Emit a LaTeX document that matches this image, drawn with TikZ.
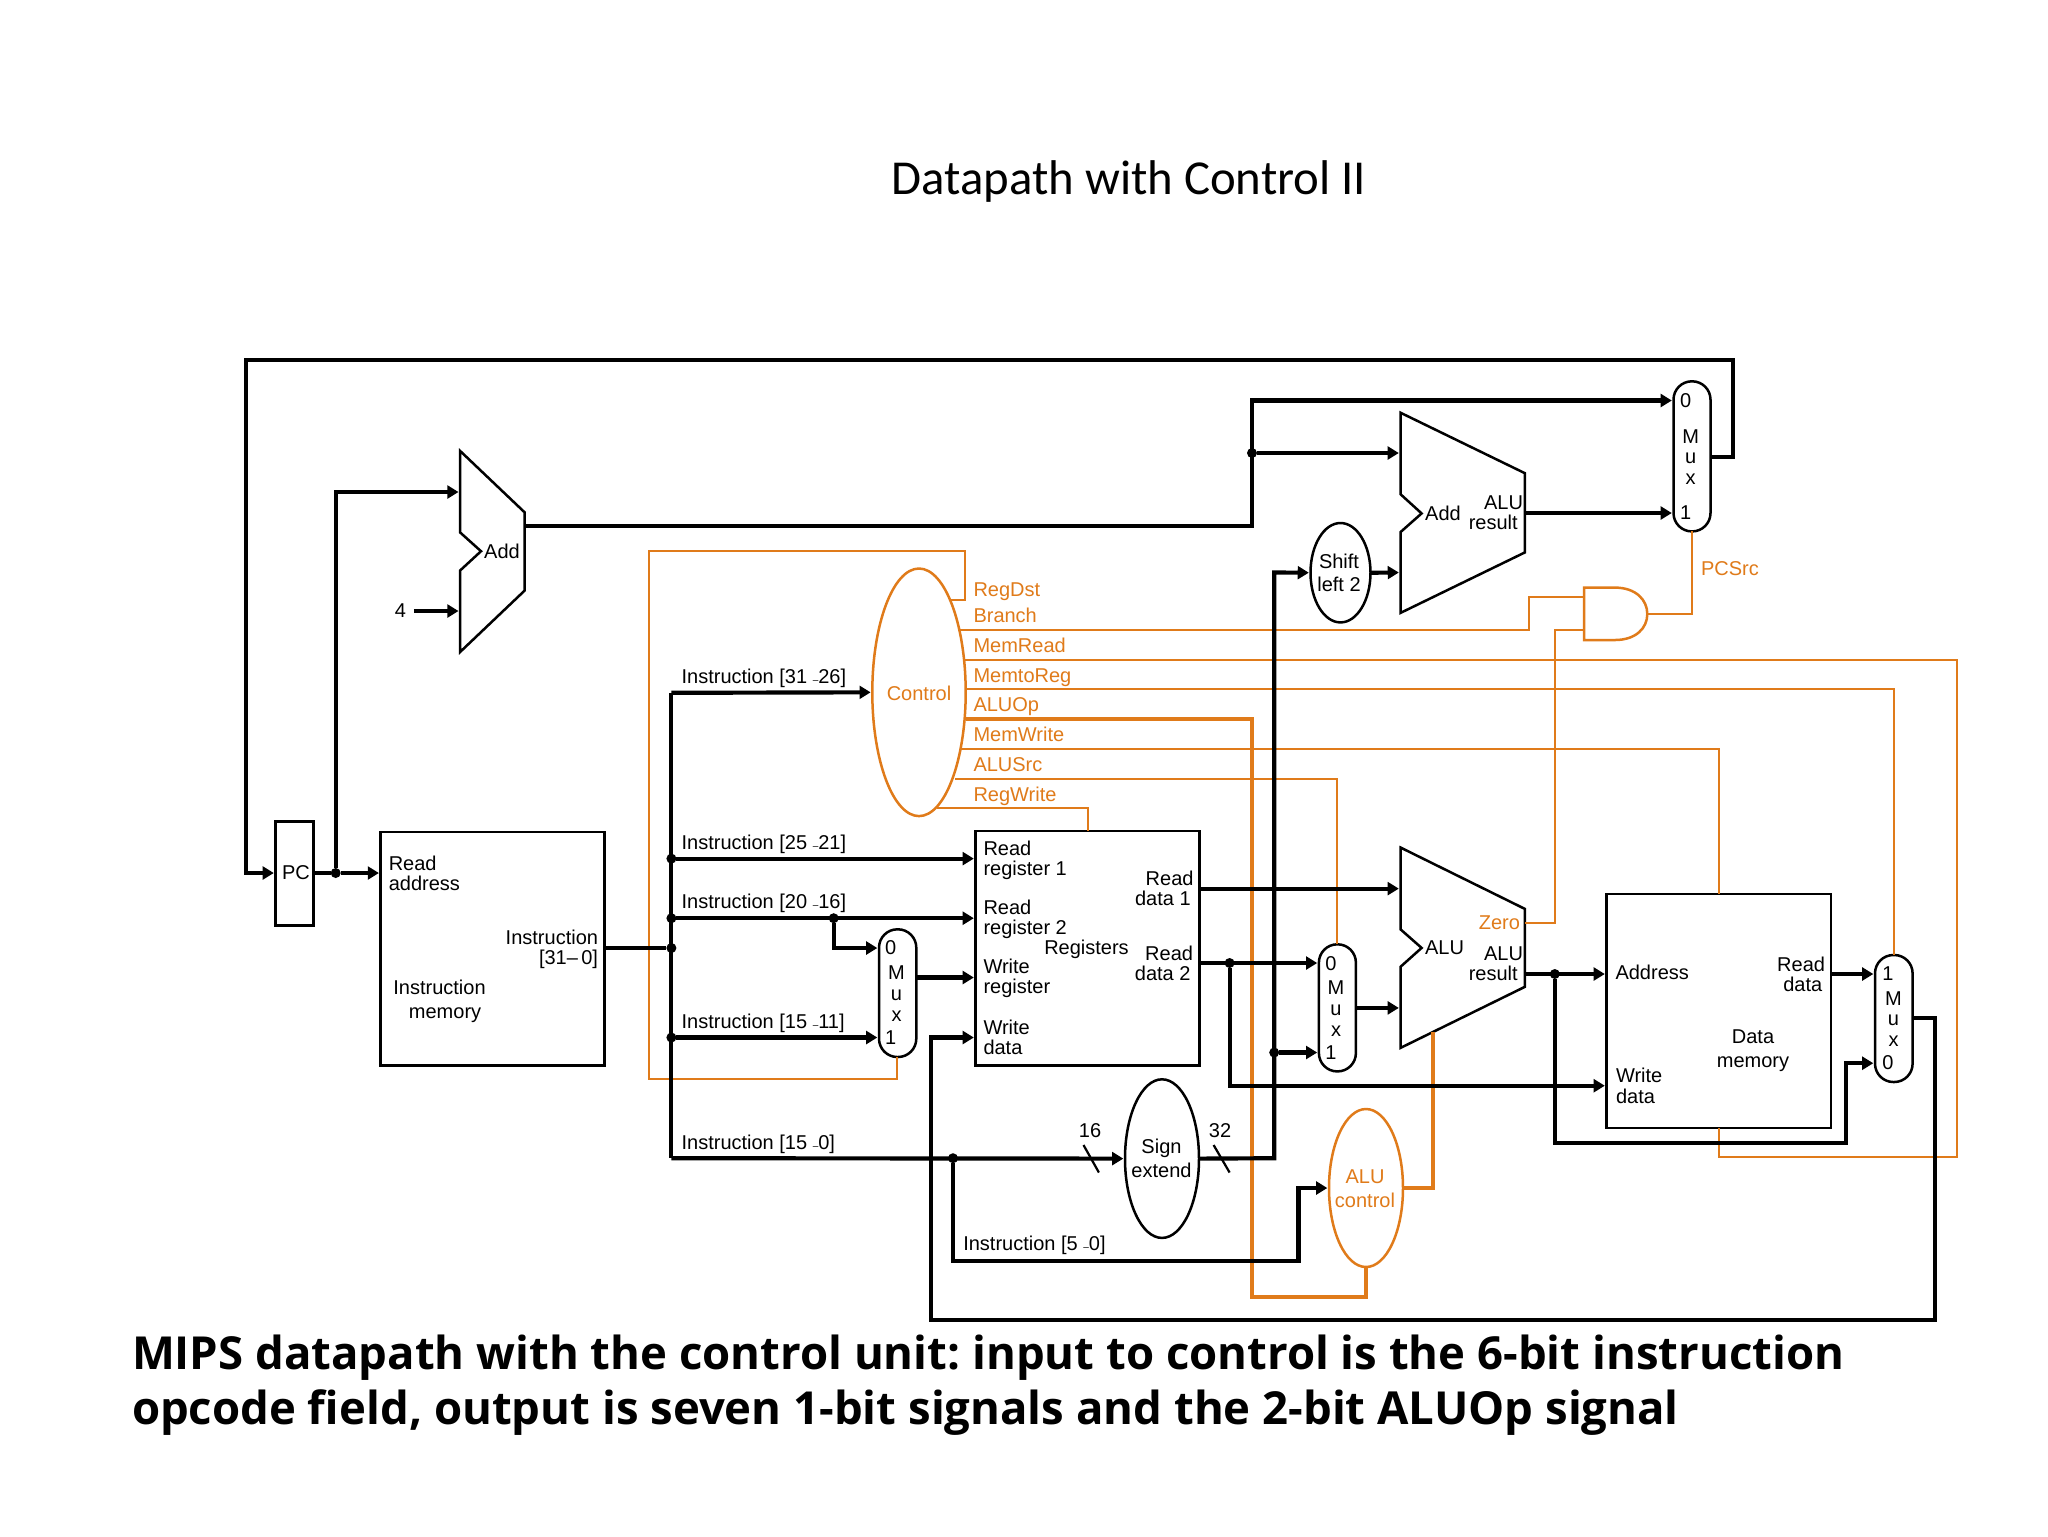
\documentclass[tikz,border=0pt]{standalone}
\usepackage{fontspec}
\setmainfont{Liberation Sans}
\newfontfamily\titlefont{Carlito}
\newfontfamily\capfont{Open Sans}
\usetikzlibrary{arrows.meta,fit,shapes.geometric,calc}
\definecolor{ctl}{HTML}{E07B1A}
\newcommand{\dd}{{\fontsize{3.6pt}{5pt}\selectfont –}}
\tikzset{
  every node/.style={inner sep=0pt,outer sep=0pt},
  t/.style={font=\fontsize{7.2pt}{7.2pt}\selectfont,text=black},
  o/.style={t,text=ctl},
  shape line/.style={draw=black,line width=0.9pt,line join=miter},
  boxn/.style={shape line,fit={#1}},
  muxn/.style={shape line,rounded corners=6.6pt,fit={#1}},
  eln/.style={ellipse,draw=black,line width=0.9pt},
  bus/.style={draw=black,line width=1.5pt,line join=miter},
  arr/.style={bus,-{Triangle[length=4pt,width=4.6pt]},shorten >=0.6pt},
  ctlw/.style={draw=ctl,line width=0.8pt,line join=miter},
  ctlb/.style={draw=ctl,line width=1.5pt,line join=miter},
  dot/.style={circle,fill=black,minimum size=3.6pt},
}
\begin{document}
\begin{tikzpicture}[x=0.36pt,y=-0.36pt]
\useasboundingbox (0,0) rectangle (2048,1536);
\fill[white] (0,0) rectangle (2048,1536);

% --- named points
\coordinate (topL) at (246,360);
\coordinate (topR) at (1733,360);
\coordinate (pcIn) at (246,873);
\coordinate (addIn1) at (335.7,492);
\coordinate (addA1) at (460.2,492);
\coordinate (four) at (413.8,611);
\coordinate (addA2) at (460.2,611);
\coordinate (addOut) at (524.5,526);
\coordinate (bendA) at (1252,526);
\coordinate (bendB) at (1252,400.5);
\coordinate (muxP0) at (1673.5,400.5);
\coordinate (add2A) at (1400.5,453);
\coordinate (add2B) at (1400.5,572.5);
\coordinate (add2O) at (1524.9,513);
\coordinate (muxP1) at (1673.5,513);
\coordinate (muxPO) at (1710.5,456.7);
\coordinate (muxPOb) at (1733,456.7);
\coordinate (sBendT) at (1274.2,572.5);
\coordinate (sBendB) at (1274.2,1158.2);
\coordinate (aluA) at (1400.5,888.6);
\coordinate (aluB) at (1400.5,1007.9);
\coordinate (aluO) at (1524.9,974);
\coordinate (aluZ) at (1524.9,923);
\coordinate (memA) at (1606.5,974);
\coordinate (memW) at (1606.5,1085.7);
\coordinate (rd2b) at (1229.6,1085.7);
\coordinate (bypA) at (1554.8,1143.2);
\coordinate (bypB) at (1846.3,1143.2);
\coordinate (bypC) at (1846.3,1063.2);
\coordinate (wbA) at (1935,1018.2);
\coordinate (wbB) at (1935,1319.6);
\coordinate (wbC) at (930.6,1319.6);
\coordinate (wbD) at (930.6,1037.5);
\coordinate (busT) at (671.4,692.8);
\coordinate (busB) at (671.4,1158.2);
\coordinate (m1a) at (833.7,948);
\coordinate (wrp) at (916.3,977.5);
\coordinate (fiveA) at (953,1260.7);
\coordinate (fiveB) at (1298.5,1260.7);
\coordinate (fiveC) at (1298.5,1188);
\coordinate (aluCtlUp) at (1433,1188);
\coordinate (aluBottom) at (1433,1032);
\coordinate (opA) at (1252,719.3);
\coordinate (opB) at (1252,1297);
\coordinate (opC) at (1366,1297);
\coordinate (dstA) at (951,600);
\coordinate (dstB) at (965,600);
\coordinate (dstC) at (965,551);
\coordinate (dstD) at (649,551);
\coordinate (dstE) at (649,1079);
\coordinate (dstF) at (897,1079);
\coordinate (brA) at (960,630);
\coordinate (brB) at (1529,630);
\coordinate (brC) at (1529,597);
\coordinate (andA) at (1584.2,597);
\coordinate (andB) at (1584.2,630);
\coordinate (zA) at (1555,923);
\coordinate (zB) at (1555,630);
\coordinate (andO) at (1647.3,614);
\coordinate (pcsA) at (1692,614);
\coordinate (mrA) at (963.8,660);
\coordinate (mrB) at (1957,660);
\coordinate (mrC) at (1957,1157);
\coordinate (mrD) at (1719,1157);
\coordinate (m2rA) at (966,689);
\coordinate (m2rB) at (1894,689);
\coordinate (mwA) at (961,749);
\coordinate (mwB) at (1719,749);
\coordinate (asA) at (955,779);
\coordinate (asB) at (1337,779);
\coordinate (rwA) at (937,808);
\coordinate (rwB) at (1088,808);

% --- shapes: boxes
\node[boxn={(275.5,821.4)(313.3,925.7)}] (pc) {};
\node[t] (pct) at (296,873) {PC};
\node[boxn={(380.6,832)(604.6,1065.4)}] (imem) {};
\node[boxn={(975.5,831)(1199.6,1065.4)}] (regs) {};
\node[boxn={(1606.5,893.9)(1831,1127.9)}] (dmem) {};

% --- adders and ALU
\draw[shape line] (460.2,451) -- (524.5,512.2) -- (524.5,590.7) -- (460.2,651.9) -- (460.2,570.4) -- (481,551.2) -- (460.2,532.5) -- cycle;
\draw[shape line] (1400.5,412.7) -- (1524.9,473.2) -- (1524.9,552.4) -- (1400.5,612.9) -- (1400.5,532.1) -- (1421.6,513.4) -- (1400.5,494.2) -- cycle;
\draw[shape line] (1400.5,847.5) -- (1524.9,908.9) -- (1524.9,986.8) -- (1400.5,1047.9) -- (1400.5,966.8) -- (1421.6,947.9) -- (1400.5,929.3) -- cycle;

% --- muxes
\node[muxn={(1673.5,381.3)(1710.5,531.4)}] (mxpc) {};
\node[t] (mxpc0) at (1685.6,400.5) {0};
\node[t,align=center] (mxpcm) at (1690.7,457) {M\\[0.3pt]u\\[0.3pt]x};
\node[t] (mxpc1) at (1685.6,513) {1};
\node[muxn={(879,929.3)(916.3,1057)}] (mxreg) {};
\node[t] (mxreg0) at (890.8,948) {0};
\node[t,align=center] (mxregm) at (896.5,993.5) {M\\[0.3pt]u\\[0.3pt]x};
\node[t] (mxreg1) at (890.8,1037.5) {1};
\node[muxn={(1318.9,944.3)(1355.9,1071.4)}] (mxalu) {};
\node[t] (mxalu0) at (1331,963.6) {0};
\node[t,align=center] (mxalum) at (1336,1008.5) {M\\[0.3pt]u\\[0.3pt]x};
\node[t] (mxalu1) at (1331,1052.5) {1};
\node[muxn={(1875,955)(1912.6,1082)}] (mxmem) {};
\node[t] (mxmem1) at (1887.8,974) {1};
\node[t,align=center] (mxmemm) at (1893.5,1019) {M\\[0.3pt]u\\[0.3pt]x};
\node[t] (mxmem0) at (1887.8,1063) {0};

% --- ellipses
\node[eln,minimum width=93.4*0.36pt,minimum height=247.6*0.36pt,draw=ctl] (control) at (919,692.3) {};
\node[o] (lcontrol) at (919,693.6) {Control};
\node[eln,minimum width=60*0.36pt,minimum height=99.4*0.36pt] (shift) at (1340.5,572.7) {};
\node[t,align=center] (lshift) at (1339,572.5) {Shift\\[1pt]left 2};
\node[eln,minimum width=74*0.36pt,minimum height=158.6*0.36pt] (signext) at (1162,1158.6) {};
\node[t,align=center] (lsign) at (1161.5,1158.5) {Sign\\[1.3pt]extend};
\node[eln,minimum width=74*0.36pt,minimum height=158*0.36pt,draw=ctl] (aluctl) at (1366,1188) {};
\node[o,align=center] (laluctl) at (1365,1188.5) {ALU\\[1.4pt]control};

% --- AND gate
\coordinate (andTL) at (1584.2,587.6);
\coordinate (andTM) at (1615,587.6);
\coordinate (andBM) at (1615,640);
\coordinate (andBL) at (1584.2,640);
\draw[ctlw,line width=0.9pt] (andTL) -- (andTM) .. controls (1636,587.6) and (1647.3,600) .. (andO) .. controls (1647.3,628) and (1636,640) .. (andBM) -- (andBL) -- cycle;

% --- control wires (drawn beneath the data wires)
\draw[ctlw] (dstA) -- (dstB) -- (dstC) -- (dstD) -- (dstE) -- (dstF) -- (dstF |- mxreg.south);
\draw[ctlw] (brA) -- (brB) -- (brC) -- (andA);
\draw[ctlw] (aluZ) -- (zA) -- (zB) -- (andB);
\draw[ctlw] (andO) -- (pcsA) -- (pcsA |- mxpc.south);
\draw[ctlw] (mrA) -- (mrB) -- (mrC) -- (mrD) -- (dmem.south -| mrD);
\draw[ctlw] (m2rA) -- (m2rB) -- (mxmem.north -| m2rB);
\draw[ctlw] (mwA) -- (mwB) -- (dmem.north -| mwB);
\draw[ctlw] (asA) -- (asB) -- (mxalu.north -| asB);
\draw[ctlw] (rwA) -- (rwB) -- (regs.north -| rwB);
\draw[ctlb] (control.east |- opA) -- (opA) -- (opB) -- (opC) -- (aluctl.south);
\draw[ctlb] (aluctl.east) -- (aluCtlUp) -- (aluBottom);

% --- junctions
\node[dot] (jpc) at (335.7,873) {};
\node[dot] (jadd) at (1252,453) {};
\node[dot] (j2521) at (671.4,858.6) {};
\node[dot] (j2016) at (671.4,918.2) {};
\node[dot] (jinst) at (671.4,948) {};
\node[dot] (j1511) at (671.4,1037.5) {};
\node[dot] (jrt) at (833.7,918.2) {};
\node[dot] (j150) at (953,1158.2) {};
\node[dot] (jrd2) at (1229.6,963) {};
\node[dot] (jimm) at (1274.2,1052.5) {};
\node[dot] (jalu) at (1554.8,974) {};

% --- data wires
\draw[arr] (mxpc.east |- muxPO) -- (muxPOb) -- (topR) -- (topL) -- (pcIn) -- (pc.west |- pcIn);
\draw[bus] (pc.east |- jpc) -- (jpc);
\draw[arr] (jpc) -- (imem.west |- jpc);
\draw[arr] (jpc) -- (addIn1) -- (addA1);
\draw[arr] (four) -- (addA2);
\draw[arr] (addOut) -- (bendA) -- (bendB) -- (muxP0);
\draw[arr] (jadd) -- (add2A);
\draw[arr] (add2O) -- (muxP1);
\draw[arr] (shift.east) -- (add2B);
\draw[arr] (signext.east) -- (sBendB) -- (sBendT) -- (shift.west);
\draw[arr] (jimm) -- (mxalu.west |- jimm);
\draw[arr] (regs.east |- aluA) -- (aluA);
\draw[arr] (regs.east |- jrd2) -- (mxalu.west |- jrd2);
\draw[arr] (jrd2) -- (rd2b) -- (memW);
\draw[arr] (mxalu.east |- aluB) -- (aluB);
\draw[arr] (aluO) -- (memA);
\draw[arr] (jalu) -- (bypA) -- (bypB) -- (bypC) -- (mxmem.west |- bypC);
\draw[arr] (dmem.east |- memA) -- (mxmem.west |- memA);
\draw[arr] (mxmem.east |- wbA) -- (wbA) -- (wbB) -- (wbC) -- (wbD) -- (regs.west |- wbD);
\draw[bus] (imem.east |- jinst) -- (jinst);
\draw[bus] (busT) -- (busB);
\draw[arr] (busT) -- (control.west);
\draw[arr] (j2521) -- (regs.west |- j2521);
\draw[arr] (j2016) -- (regs.west |- j2016);
\draw[arr] (jrt) -- (m1a) -- (mxreg.west |- m1a);
\draw[arr] (j1511) -- (mxreg.west |- j1511);
\draw[arr] (wrp) -- (regs.west |- wrp);
\draw[arr] (busB) -- (signext.west);
\draw[arr] (j150) -- (fiveA) -- (fiveB) -- (fiveC) -- (aluctl.west);

% --- bit-width slashes
\coordinate (sl1a) at (1083.5,1145); \coordinate (sl1b) at (1098.9,1172.5);
\coordinate (sl2a) at (1213.6,1145); \coordinate (sl2b) at (1229.6,1172.5);
\draw[black,line width=0.8pt] (sl1a) -- (sl1b);
\draw[black,line width=0.8pt] (sl2a) -- (sl2b);

% --- black labels
\node[t] (l4) at (400.5,611) {4};
\node[t] (ladd1) at (502,551.6) {Add};
\node[t] (ladd2) at (1443,513) {Add};
\node[t,anchor=east,align=right] (lalures1) at (1523,512.5) {ALU\\result\hspace*{1.9pt}};
\node[t] (lalu) at (1444.5,948) {ALU};
\node[t,anchor=east,align=right] (lalures2) at (1523,964) {ALU\\result\hspace*{1.9pt}};
\node[t,align=left,anchor=west] (lra) at (388.8,873.6) {Read\\address};
\node[t,align=right,anchor=east] (linst) at (598,949.8) {Instruction\\{}[31–\,0]};
\node[t,align=center] (limem) at (439.5,1001.5) {Instruction\\[1.3pt]\hspace*{4pt}memory};
\node[t,align=left,anchor=west] (lrr1) at (983.5,860.3) {Read\\register 1};
\node[t,align=left,anchor=west] (lrr2) at (983.5,919.2) {Read\\register 2};
\node[t,align=left,anchor=west] (lwr) at (983.5,978.8) {Write\\register};
\node[t,align=left,anchor=west] (lwd) at (983.5,1037.7) {Write\\data};
\node[t] (lregs) at (1086.5,949) {Registers};
\node[t,align=right,anchor=east] (lrd1) at (1193.5,888.5) {Read\\data 1\hspace*{1pt}};
\node[t,align=right,anchor=east] (lrd2) at (1193,963) {Read\\data 2\hspace*{0.9pt}};
\node[t] (l16) at (1090,1131) {16};
\node[t] (l32) at (1220,1131) {32};
\node[t,anchor=base west] (laddr) at (1615.5,979.7) {Address};
\node[t,align=right,anchor=east] (lrdm) at (1825,974) {Read\\data\hspace*{1pt}};
\node[t,align=center] (ldm) at (1753,1050.5) {Data\\[1.4pt]memory};
\node[t,align=left,anchor=west] (lwdm) at (1616,1085.5) {Write\\[0.3pt]data};
\node[t,anchor=base west] (li1) at (681.6,683) {Instruction [31 \dd26]};
\node[t,anchor=base west] (li2) at (681.6,849.4) {Instruction [25 \dd21]};
\node[t,anchor=base west] (li3) at (681.6,908.8) {Instruction [20 \dd16]};
\node[t,anchor=base west] (li4) at (681.6,1028.1) {Instruction [15 \dd11]};
\node[t,anchor=base west] (li5) at (681.6,1149.2) {Instruction [15 \dd0]};
\node[t,anchor=base west] (li6) at (963.3,1250.3) {Instruction [5 \dd0]};

% --- control labels
\node[o,anchor=base west] (cl1) at (973.5,596) {RegDst};
\node[o,anchor=base west] (cl2) at (973.5,622) {Branch};
\node[o,anchor=base west] (cl3) at (973.5,652.2) {MemRead};
\node[o,anchor=base west] (cl4) at (973.5,682.1) {MemtoReg};
\node[o,anchor=base west] (cl5) at (973.5,711.5) {ALUOp};
\node[o,anchor=base west] (cl6) at (973.5,741.4) {MemWrite};
\node[o,anchor=base west] (cl7) at (973.5,771.2) {ALUSrc};
\node[o,anchor=base west] (cl8) at (973.5,801.5) {RegWrite};
\node[o] (lzero) at (1499.4,922.5) {Zero};
\node[o] (lpcsrc) at (1730,568.9) {PCSrc};

% --- title and caption
\node[font=\titlefont\fontsize{17.56pt}{20pt}\selectfont] (title) at (1129,181.5) {Datapath with Control II};
\node[font=\capfont\bfseries\fontsize{16.38pt}{19.8pt}\selectfont,anchor=north west,align=left] (caption) at (132,1335) {\frenchspacing MIPS datapath with the control unit: input to control is the 6-bit instruction\\\frenchspacing opcode field, output is seven 1-bit signals and the 2-bit ALUOp signal};
\end{tikzpicture}
\end{document}
